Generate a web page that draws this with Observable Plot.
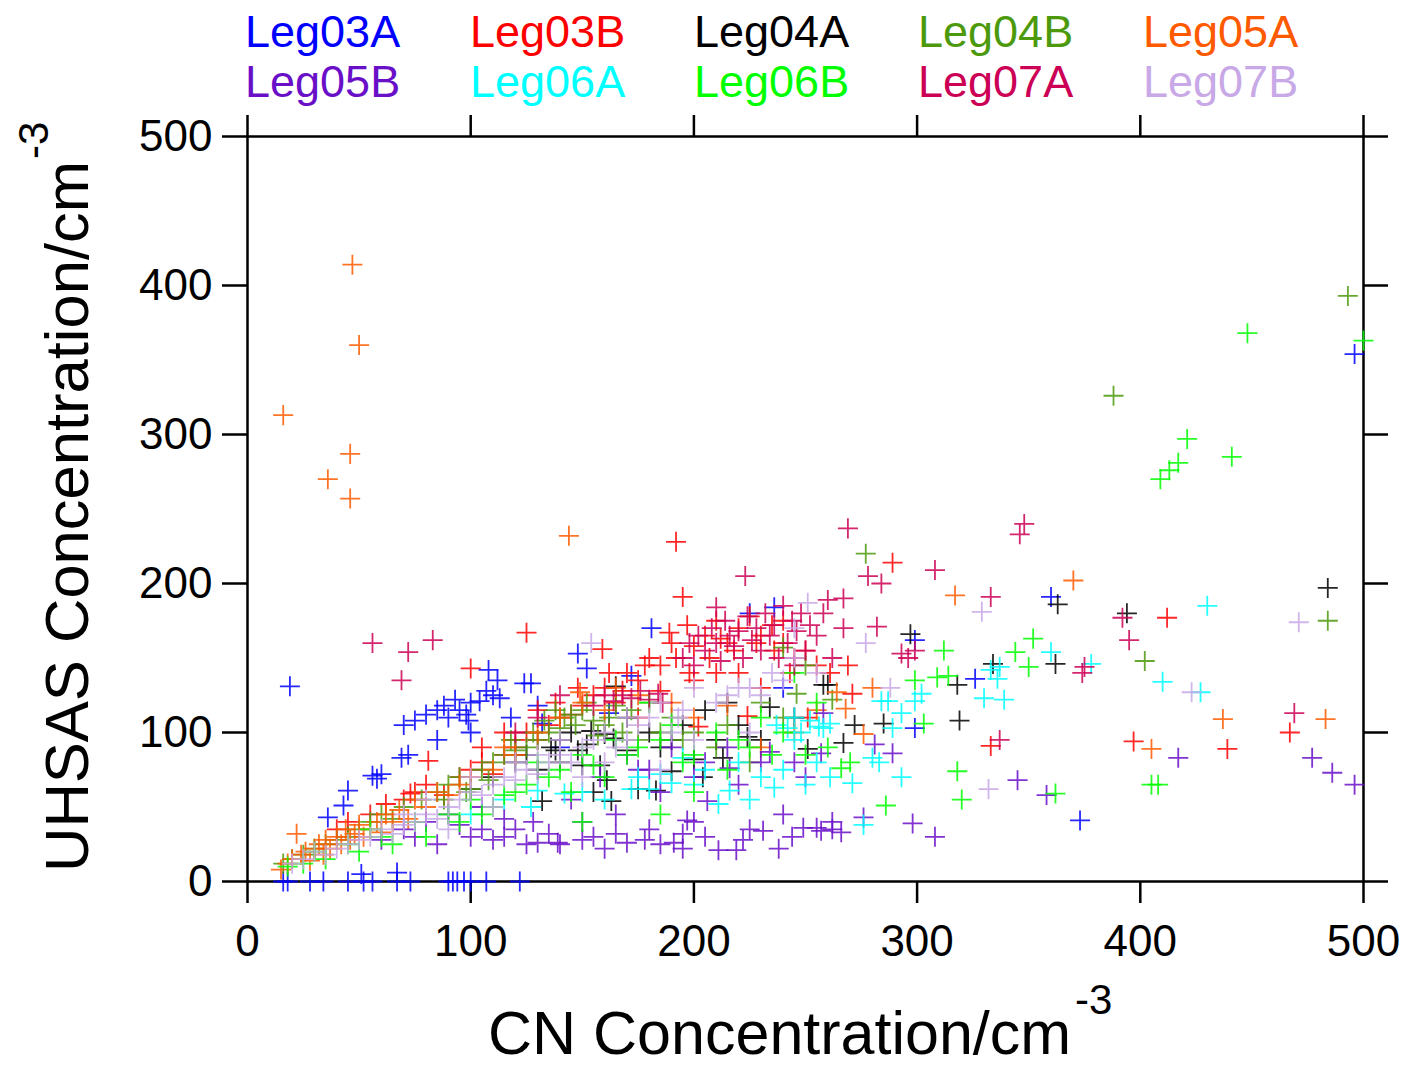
<!DOCTYPE html>
<html><head><meta charset="utf-8">
<script src="https://cdn.jsdelivr.net/npm/d3@7"></script>
<script src="https://cdn.jsdelivr.net/npm/@observablehq/plot@0.6"></script>
<style>
body{margin:0;background:#fff;font-family:"Liberation Sans",Arial,Helvetica,sans-serif;}
#wrap{width:1407px;height:1067px;position:relative;overflow:hidden;background:#fff}
#legend{position:relative;height:110px;width:1407px}
#legend span{position:absolute;font-size:45px;line-height:45px;white-space:nowrap}
</style></head><body><div id="wrap"><div id="legend"></div><div id="chart"></div></div>
<script>
const seriesNames = ["Leg03A","Leg03B","Leg04A","Leg04B","Leg05A","Leg05B","Leg06A","Leg06B","Leg07A","Leg07B"];
const seriesColors = ["#0000ff","#ff0000","#000000","#4c9a0c","#ff5a00","#6a0fc8","#00ffff","#00ff00","#cc0055","#c8a8e6"];
const xTicks = [0,100,200,300,400,500];
const yTicks = [0,100,200,300,400,500];

const leg03A = [[19,131],[36,43],[43,51],[45,61],[56,71],[58,69],[60,72],[69,83],[72,85],[70,105],[75,108],[85,95],[80,112],[85,115],[88,118],[90,110],[93,122],[95,115],[98,112],[99,108],[100,120],[104,121],[107,128],[110,125],[113,123],[108,142],[112,135],[124,133],[118,110],[130,118],[100,100],
[16,0],[18,0],[28,0],[34,0],[45,0],[52,0],[56,0],[67,0],[73,0],[90,0],[92,0],[94,0],[97,0],[100,0],[107,0],[122,0],[51,5],[67,6],
[148,153],[152,143],[181,170],[172,138],[225,180],[236,184],[240,130],[127,133],[132,106],[140,90],[162,113],
[299,103],[326,136],[360,191],[373,41],[496,354],[299,162]];

const leg03B = [[100,143],[125,167],[159,156],[189,167],[197,172],[195,191],[192,228],[289,214],[269,145],[261,140],[271,126],[397,94],[412,177],[439,89],[467,100],[333,91],
[40,35],[45,40],[55,45],[62,52],[70,55],[73,59],[75,60],[80,65],[81,81],[88,58],[95,70],[100,75],[105,80],[110,72],[115,85],[120,90],[125,100],[130,95],[135,105],[140,110],[145,112],[150,118],[155,125],[160,130],[165,120],[170,140],[175,135],[180,150],[185,145],[190,160],[200,158],[205,165],[210,175],[215,160],[220,170],[225,178],[230,165],[235,172],[240,160],[245,150],[250,155],[255,145],[210,140],[200,135],[185,128],[175,110],[220,140],[230,130],[240,175],[212,163],[218,155],[202,104],[224,111],[251,110],
[130,115],[138,120],[148,130],[162,140],[168,128],[178,145],[192,150],[198,140],[207,150],[228,160],[236,155],[243,140],[120,95],[115,100],[105,90]];

const leg04A = [[394,180],[484,197],[363,186],[297,166],[260,132],[318,132],[334,146],[362,146],[285,106],[319,108],[272,105],[267,93],
[165,131],[170,110],[154,101],[136,90],[138,88],[160,99],[164,96],[161,68],[163,54],[183,61],[190,74],[204,70],[213,83],[224,97],[234,117],[251,89],[258,132],[132,54],
[120,80],[125,85],[130,75],[140,95],[145,100],[150,78],[155,60],[175,62],[185,90],[195,105],[205,115],[215,120],[110,70],[100,62],
[140,80],[148,88],[152,92],[158,78],[170,88],[180,100],[190,95],[200,82],[210,95],[220,105],[230,95],[245,110]];

const leg04B = [[493,393],[388,326],[402,148],[484,175],[277,220],[16,12],[20,15],[25,18],[30,22],[35,25],[45,30],[55,40],[60,45],[65,42],[70,50],[78,55],[85,60],[90,65],[95,70],[100,62],[105,75],[110,80],[115,85],[120,88],[125,90],[130,95],[135,100],[140,103],[142,110],[145,112],[150,115],[155,108],[157,98],[160,105],[165,118],[172,115],[180,120],[185,100],[195,95],[210,90],[225,80],[240,110],[250,145],[262,122],[246,126],[240,157],
[118,95],[128,100],[133,108],[138,115],[147,105],[152,120],[162,110],[168,100],[175,95],[190,110],[200,100],[215,105],[230,120],[88,55],[98,60],[108,68],[50,35],[40,28]];

const leg05A = [[16,313],[36,270],[46,287],[46,257],[47,414],[50,360],[144,232],[370,202],[317,192],[437,109],[405,89],[483,109],[280,130],[276,99],[268,116],[264,127],
[15,8],[18,12],[20,15],[22,32],[24,18],[26,20],[28,14],[30,22],[32,25],[34,18],[35,28],[37,22],[40,30],[42,25],[44,35],[46,28],[48,32],[50,38],[52,30],[55,35],[58,40],[60,33],[62,45],[65,40],[68,48],[72,42],[75,55],[80,50],[85,60],[90,58],[95,65],[100,70],[110,75],[115,90],[120,85],[130,100],[140,110],[149,127],[150,120],[160,115],[165,130],[175,125],[190,120],[200,110],[215,118],[230,90],[245,100],[255,115]];

const leg05B = [[417,83],[477,83],[486,73],[496,65],[345,68],[358,58],[281,92],[289,86],[276,43],[298,39],[308,30],[257,34],[262,35],[266,33],[257,86],[258,113],
[60,28],[70,35],[75,30],[80,40],[85,25],[90,45],[95,38],[100,30],[105,50],[110,28],[115,42],[120,35],[125,25],[130,26],[135,32],[139,26],[140,25],[145,55],[150,40],[155,30],[158,70],[160,22],[165,45],[170,26],[175,75],[180,35],[185,25],[191,26],[195,32],[197,41],[200,40],[206,54],[211,21],[216,76],[219,21],[225,35],[231,34],[234,87],[240,45],[245,80],[249,36],[255,36],[250,70],[205,80],[215,90],[170,85],[180,75],[190,90],
[105,35],[115,30],[128,40],[150,28],[165,32],[178,28],[195,22],[205,30],[222,28],[238,22],[244,30],[262,40],[230,80],[220,65],[185,60],[200,70]];

const leg06A = [[430,185],[410,134],[427,127],[360,154],[378,146],[333,142],[337,144],[336,136],[330,123],[339,122],[302,126],[299,121],[293,113],[289,103],[284,121],[287,121],[280,83],[283,80],[293,70],[271,66],[276,38],[258,103],[261,70],
[237,105],[242,103],[248,100],[252,108],[256,104],[261,106],[245,110],[230,70],[236,63],[240,75],[216,61],[211,52],[190,66],[180,62],[195,83],[142,59],[130,61],[172,62],[127,50],[100,45],[115,55],
[150,60],[160,55],[175,70],[185,72],[200,65],[205,75],[220,80],[225,55],[245,95],[250,65],[255,80]];

const leg06B = [[448,368],[500,363],[421,297],[441,285],[409,270],[413,276],[417,281],[405,65],[408,65],[312,155],[299,135],[309,137],[314,138],[344,154],[352,163],[350,144],[303,106],[266,76],[286,51],[318,74],[320,55],[362,59],
[18,10],[25,12],[30,20],[35,15],[45,25],[50,20],[55,35],[60,30],[65,25],[75,40],[80,30],[90,45],[95,40],[100,55],[110,50],[120,60],[125,65],[130,80],[140,75],[150,85],[160,70],[165,95],[175,90],[180,120],[190,105],[200,85],[210,100],[220,95],[230,110],[240,100],[250,85],[260,90],[270,80],[255,120],[245,140],[200,60],[185,45],[150,40],
[105,45],[115,58],[135,70],[145,60],[155,78],[170,85],[185,95],[195,80],[215,75],[225,90],[235,85]];

const leg07A = [[56,160],[72,154],[83,162],[69,135],[223,205],[210,184],[269,237],[346,233],[348,240],[308,209],[278,205],[284,200],[260,189],[267,190],[267,170],[282,171],[293,153],[296,150],[299,155],[333,191],[337,95],[374,140],[375,144],[392,177],[395,162],[469,113],
[195,150],[198,160],[200,145],[202,165],[205,155],[208,170],[210,160],[212,148],[214,175],[216,165],[218,158],[220,168],[222,150],[224,178],[226,162],[228,170],[230,155],[232,180],[234,165],[236,172],[238,150],[240,185],[242,160],[244,175],[246,168],[248,180],[250,155],[252,172],[255,165],[258,180],[262,150],[245,145],
[164,121],[168,125],[172,123],[176,128],[180,122],[184,126],[186,120],[160,125],[155,118],[130,110],[140,125],[120,100]];

const leg07B = [[471,174],[423,127],[329,181],[277,160],[288,130],[332,62],[251,187],[154,160],[193,110],[225,130],
[20,12],[25,15],[30,20],[35,18],[40,22],[45,25],[50,28],[55,30],[60,35],[65,32],[70,38],[75,40],[80,45],[85,42],[90,50],[95,55],[100,60],[105,58],[110,65],[115,70],[120,68],[125,75],[130,72],[135,80],[140,85],[150,90],[160,100],[170,95],[175,105],[180,110],[190,100],[195,115],[200,95],[210,120],[220,130],[230,125],[240,135],[245,170],[255,140],[150,70],[160,80],[185,75],[225,100],[110,50],[90,35],
[130,85],[140,95],[145,80],[155,95],[165,90],[170,110],[185,120],[200,130],[215,125],[235,140],[245,150],[120,80],[100,70],[80,55],[70,45]];

const seriesValues = [leg03A,leg03B,leg04A,leg04B,leg05A,leg05B,leg06A,leg06B,leg07A,leg07B];

const data = [];
seriesValues.forEach((arr, i) => arr.forEach(([x, y]) => data.push({x, y, series: seriesNames[i]})));

// legend
const legend = document.getElementById("legend");
const legendLeft = [245, 470, 694, 918, 1143];
seriesNames.forEach((name, i) => {
  const s = document.createElement("span");
  s.textContent = name;
  s.style.color = seriesColors[i];
  s.style.left = legendLeft[i % 5] + "px";
  s.style.top = (i < 5 ? 9 : 59) + "px";
  legend.appendChild(s);
});

const plot = Plot.plot({
  width: 1407, height: 957,
  marginLeft: 247, marginRight: 44, marginTop: 26, marginBottom: 186,
  x: {domain: [0, 500]},
  y: {domain: [0, 500]},
  color: {domain: seriesNames, range: seriesColors},
  style: {fontFamily: "'Liberation Sans', Arial, Helvetica, sans-serif", background: "white", overflow: "visible", color: "black"},
  marks: [
    Plot.frame({stroke: "black", strokeWidth: 2.5}),
    Plot.axisX({anchor: "bottom", ticks: xTicks, tickSize: 22, tickPadding: 21, fontSize: 44, strokeWidth: 2.5, label: null, tickFormat: d => String(d)}),
    Plot.axisX({anchor: "top", ticks: xTicks, tickSize: 22, tickFormat: () => "", label: null, strokeWidth: 2.5}),
    Plot.axisY({anchor: "left", ticks: yTicks, tickSize: 25, tickPadding: 10, fontSize: 44, strokeWidth: 2.5, label: null, tickFormat: d => String(d)}),
    Plot.axisY({anchor: "right", ticks: yTicks, tickSize: 24, tickFormat: () => "", label: null, strokeWidth: 2.5}),
    Plot.dot(data, {x: "x", y: "y", stroke: "series", symbol: "plus", r: 6.5, strokeWidth: 1.8, strokeOpacity: 0.85})
  ]
});
document.getElementById("chart").appendChild(plot);

const svg = d3.select(plot);
const xt = svg.append("text").attr("x", 488).attr("y", 944).attr("text-anchor", "start").attr("font-size", 61).attr("fill", "black").text("CN Concentration/cm");
xt.append("tspan").attr("dx", 4).attr("dy", -40).attr("font-size", 42).text("-3");
const yt = svg.append("text").attr("transform", "translate(88,762) rotate(-90)").attr("text-anchor", "start").attr("font-size", 61.5).attr("fill", "black").text("UHSAS Concentration/cm");
yt.append("tspan").attr("dx", 2).attr("dy", -40).attr("font-size", 42).text("-3");
</script></body></html>
